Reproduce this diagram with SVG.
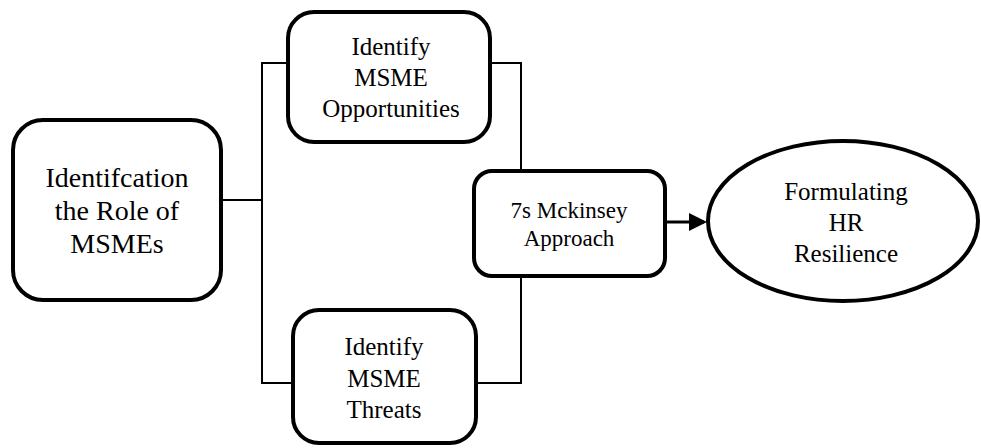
<svg xmlns="http://www.w3.org/2000/svg" width="981" height="448" viewBox="0 0 981 448">
<style>
.box{fill:#fff;stroke:#000;stroke-width:4}
.ln{fill:none;stroke:#000;stroke-width:2}
text{font-family:"Liberation Serif","Times New Roman",serif;fill:#000;text-anchor:middle}
.t28{font-size:28px}
.t25{font-size:25px}
.t23{font-size:23px}
</style>
<defs>
<marker id="ah" markerWidth="6" markerHeight="6" refX="5" refY="3" orient="auto" markerUnits="strokeWidth">
<path d="M0,0 L6,3 L0,6 z" fill="#000"/>
</marker>
</defs>
<g id="connectors">
<line class="ln" x1="223" y1="200" x2="262" y2="200"/>
<polyline class="ln" points="288,63 262,63 262,383 293,383"/>
<polyline class="ln" points="490,63 521,63 521,171"/>
<polyline class="ln" points="476,383 521,383 521,276"/>
<line x1="665" y1="222" x2="704" y2="222" stroke="#000" stroke-width="3" marker-end="url(#ah)"/>
</g>
<g id="n1">
<rect class="box" x="13" y="120" width="208" height="180" rx="30"/>
<text class="t28" x="117" y="187">Identifcation</text>
<text class="t28" x="117" y="220">the Role of</text>
<text class="t28" x="117" y="253">MSMEs</text>
</g>
<g id="n2">
<rect class="box" x="288" y="12" width="202" height="130" rx="26"/>
<text class="t25" x="391" y="55">Identify</text>
<text class="t25" x="391" y="86">MSME</text>
<text class="t25" x="391" y="117">Opportunities</text>
</g>
<g id="n3">
<rect class="box" x="293" y="310" width="183" height="133" rx="26"/>
<text class="t25" x="384" y="355">Identify</text>
<text class="t25" x="384" y="387">MSME</text>
<text class="t25" x="384" y="418">Threats</text>
</g>
<g id="n4">
<rect class="box" x="474" y="171" width="191" height="105" rx="18"/>
<text class="t23" x="569" y="218">7s Mckinsey</text>
<text class="t23" x="569" y="246">Approach</text>
</g>
<g id="n5">
<ellipse class="box" cx="843" cy="221" rx="135" ry="80"/>
<text class="t25" x="846" y="200">Formulating</text>
<text class="t25" x="846" y="231">HR</text>
<text class="t25" x="846" y="262">Resilience</text>
</g>
</svg>
